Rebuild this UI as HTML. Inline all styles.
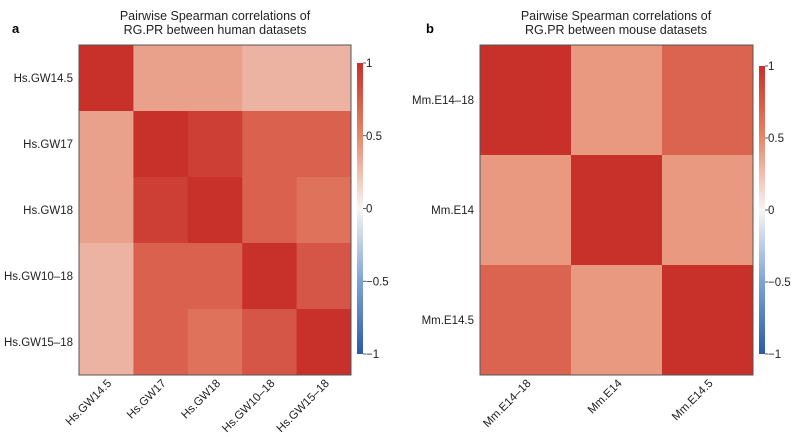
<!DOCTYPE html>
<html><head><meta charset="utf-8"><style>
body{margin:0;background:#fff}
svg{display:block;font-family:"Liberation Sans",Arial,sans-serif}
</style></head><body>
<svg id="s" width="800" height="437" viewBox="0 0 800 437">
<defs><linearGradient id="cg" x1="0" y1="1" x2="0" y2="0">
<stop offset="0" stop-color="#2a5aa8"/><stop offset="0.25" stop-color="#7fa3d6"/><stop offset="0.5" stop-color="#f7f5f5"/><stop offset="0.75" stop-color="#e6876a"/><stop offset="1" stop-color="#c8302a"/></linearGradient></defs>
<text x="12" y="33" font-size="13" font-weight="bold">a</text>
<text x="215" y="20" font-size="12.5" text-anchor="middle" fill="#222"><tspan x="215">Pairwise Spearman correlations of</tspan><tspan x="215" dy="14">RG.PR between human datasets</tspan></text>
<text x="426" y="33" font-size="13" font-weight="bold">b</text>
<text x="616" y="20" font-size="12.5" text-anchor="middle" fill="#222"><tspan x="616">Pairwise Spearman correlations of</tspan><tspan x="616" dy="14">RG.PR between mouse datasets</tspan></text>
</svg>
<script>
const humanLabels=["Hs.GW14.5","Hs.GW17","Hs.GW18","Hs.GW10–18","Hs.GW15–18"];
const humanValues=[[1,0.38,0.38,0.3,0.3],[0.38,1,0.92,0.72,0.72],[0.38,0.92,1,0.72,0.62],[0.3,0.72,0.72,1,0.78],[0.3,0.72,0.62,0.78,1]];
const mouseLabels=["Mm.E14–18","Mm.E14","Mm.E14.5"];
const mouseValues=[[1,0.42,0.7],[0.42,1,0.42],[0.7,0.42,1]];
const cbTicks=[1,0.5,0,-0.5,-1];
const cbTickLabels=["1","0.5","0","−0.5","−1"];
const NS="http://www.w3.org/2000/svg",svg=document.getElementById('s');
function mk(t,a,p){const e=document.createElementNS(NS,t);for(const k in a)e.setAttribute(k,a[k]);(p||svg).appendChild(e);return e;}
const stops=[[-1,[42,90,168]],[-0.5,[127,163,214]],[0,[247,245,245]],[0.5,[230,135,106]],[1,[200,48,42]]];
function col(v){for(let i=0;i<stops.length-1;i++){const[a,ca]=stops[i],[b,cb]=stops[i+1];if(v<=b){const t=(v-a)/(b-a);return 'rgb('+ca.map((c,j)=>Math.round(c+(cb[j]-c)*t)).join(',')+')';}}return 'rgb(200,48,42)';}
function heat(labels,vals,x0,x1,y0,y1,cbx,cbTop,cbBot,id){
 const n=labels.length,cw=(x1-x0)/n,ch=(y1-y0)/n;
 const xs=i=>x0+i*cw,ys=i=>y0+i*ch;
 vals.forEach((row,r)=>row.forEach((v,c)=>{
  const e=mk('rect',{x:xs(c),y:ys(r),width:cw+0.5,height:ch+0.5,fill:col(v)});
  
  
 }));
 const b=mk('rect',{x:x0,y:y0,width:x1-x0,height:y1-y0,fill:'none',stroke:'#555','stroke-width':1});
 
 
 labels.forEach((l,i)=>{
  const t=mk('text',{x:x0-6,y:ys(i)+ch/2+4,'font-size':11.5,'text-anchor':'end',fill:'#222'});t.textContent=l;
  
  
  const cx=xs(i)+cw/2+6;
  const u=mk('text',{x:cx,y:y1+9,'font-size':11.5,'text-anchor':'end',fill:'#222',transform:'rotate(-45 '+cx+' '+(y1+9)+')'});u.textContent=l;
  
  
 });
 const g=mk('rect',{x:cbx,y:cbTop,width:6,height:cbBot-cbTop,fill:'url(#cg)'});
 
 
 const cy=v=>cbTop+(1-v)/2*(cbBot-cbTop);
 cbTicks.forEach((v,i)=>{
  mk('line',{x1:cbx+6,x2:cbx+9,y1:cy(v),y2:cy(v),stroke:'#333','stroke-width':0.8});
  const t=mk('text',{x:cbx+9,y:cy(v)+4,'font-size':11.5,fill:'#222'});t.textContent=cbTickLabels[i];
  
  
 });
}
heat(humanLabels,humanValues,79,351,45,375,357,63,354,'a');
heat(mouseLabels,mouseValues,480,753,45,375,759,66,354,'b');
</script>
</body></html>
